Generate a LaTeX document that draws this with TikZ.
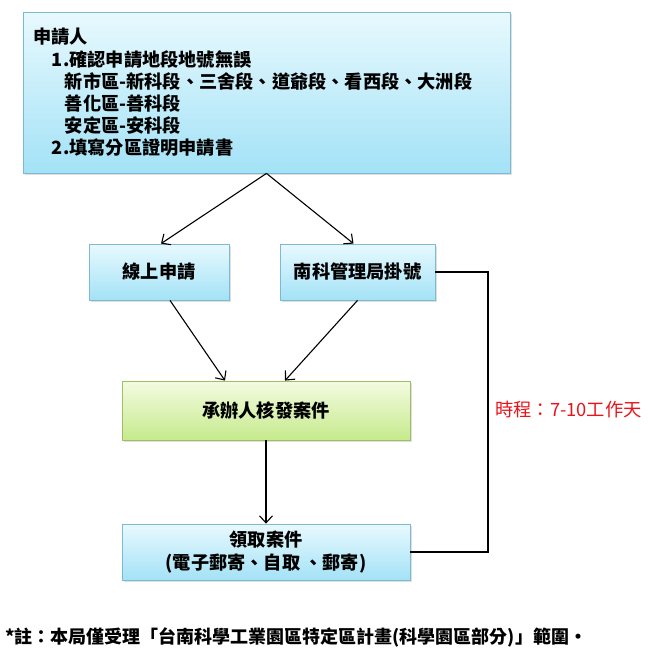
\documentclass[tikz,border=0pt]{standalone}
\usepackage{fontspec}
\setmainfont{Noto Sans CJK TC}
\usetikzlibrary{arrows.meta,shadows,calc}
\definecolor{bluetop}{HTML}{E8F9FE}
\definecolor{bluebot}{HTML}{A3E2F6}
\definecolor{blueedge}{HTML}{7DBAD2}
\definecolor{greentop}{HTML}{F4FBE2}
\definecolor{greenbot}{HTML}{C6EA8C}
\definecolor{greenedge}{HTML}{9FC062}
\definecolor{timered}{HTML}{E8141B}
\tikzset{
  bluebox/.style={rectangle, draw=blueedge, line width=0.8pt, top color=bluetop, bottom color=bluebot,
    drop shadow={opacity=0.25, shadow xshift=1.5pt, shadow yshift=-2pt}, align=center,
    font=\fontsize{18.2}{22.2}\selectfont\bfseries},
  greenbox/.style={bluebox, draw=greenedge, top color=greentop, bottom color=greenbot},
  arr/.style={line width=1.1pt, -{Straight Barb[length=7pt,width=13pt]}},
  conn/.style={line width=1.1pt},
}
\begin{document}
\begin{tikzpicture}[x=1pt,y=-1pt]
\useasboundingbox (0,0) rectangle (648,665);
\node[bluebox, minimum width=487, minimum height=161, text width=467, align=left, inner xsep=10pt] (top) at (266.5,92.5)
{申請人\\
\hspace*{19pt}1.確認申請地段地號無誤\\
\hspace*{32pt}新市區-新科段、三舍段、道爺段、看西段、大洲段\\
\hspace*{32pt}善化區-善科段\\
\hspace*{32pt}安定區-安科段\\
\hspace*{19pt}2.填寫分區證明申請書};
\node[bluebox, minimum width=140, minimum height=56] (online) at (159,272) {線上申請};
\node[bluebox, minimum width=155, minimum height=56] (reg) at (357.5,272) {南科管理局掛號};
\node[greenbox, minimum width=288, minimum height=59] (issue) at (266,410.5) {承辦人核發案件};
\node[bluebox, minimum width=288, minimum height=56] (get) at (266,552) {領取案件\\(電子郵寄、自取 、郵寄)};
\node[font=\fontsize{18.3}{22}\selectfont, text=timered, anchor=west, inner sep=0pt] (time) at (495,410) {時程：7-10工作天};
\node[font=\fontsize{18}{22}\selectfont\bfseries, anchor=west, inner sep=0pt] (note) at (5,637) {*註：本局僅受理「台南科學工業園區特定區計畫(科學園區部分)」範圍・};
\coordinate (split) at (top.south);
\draw[arr] (split) -- ([xshift=2pt]online.north);
\draw[arr] (split) -- ([xshift=-4pt]reg.north);
\draw[arr] ([xshift=11pt]online.south) -- ([xshift=-41pt]issue.north);
\draw[arr] (reg.south) -- ([xshift=19pt]issue.north);
\draw[arr] (issue.south) -- (get.north);
\coordinate (corner) at (488,272);
\draw[conn] (reg.east) -- (corner) |- (get.east);
\end{tikzpicture}
\end{document}
